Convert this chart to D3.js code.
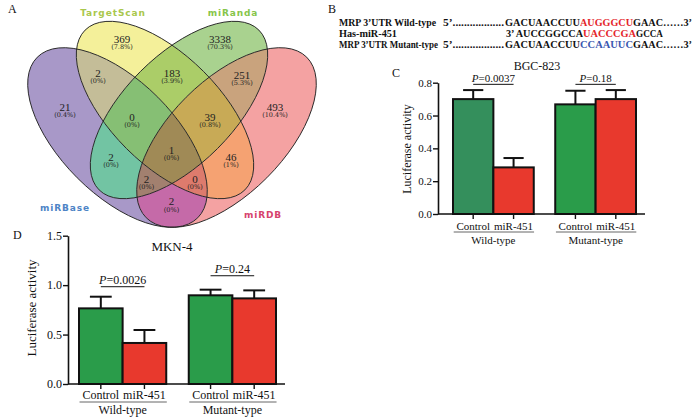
<!DOCTYPE html>
<html><head><meta charset="utf-8">
<script src="https://cdn.jsdelivr.net/npm/d3@7"></script>
<style>body{margin:0;background:#fff}svg{display:block}</style>
</head><body>
<svg id="fig" width="700" height="419"></svg>
<script>
// ---------------- DATA ----------------
const vennSetNames = ["TargetScan", "miRanda", "miRBase", "miRDB"];
const vennRegionSets = [[0],[1],[2],[3],[0,1],[0,2],[1,3],[0,1,2],[0,1,3],[1,2],[0,3],[0,1,2,3],[1,2,3],[0,2,3],[2,3]];
const vennCounts = [369, 3338, 21, 493, 183, 2, 251, 0, 39, 2, 46, 1, 2, 0, 2];
const vennPercents = ["(7.8%)","(70.3%)","(0.4%)","(10.4%)","(3.9%)","(0%)","(5.3%)","(0%)","(0.8%)","(0%)","(1%)","(0%)","(0%)","(0%)","(0%)"];

const groups = ["Wild-type", "Mutant-type"];
const treatments = ["Control", "miR-451"];
const bgcMeans = [0.700, 0.284, 0.668, 0.700];
const bgcErrors = [0.055, 0.057, 0.083, 0.055];
const bgcPValues = ["0.0037", "0.18"];
const bgcPLevels = [0.790, 0.790];
const bgcTicks = [0.0, 0.2, 0.4, 0.6, 0.8];
const mknMeans = [0.765, 0.415, 0.897, 0.866];
const mknErrors = [0.118, 0.131, 0.057, 0.081];
const mknPValues = ["0.0026", "0.24"];
const mknPLevels = [0.984, 1.095];
const mknTicks = [0.0, 0.5, 1.0, 1.5];

const seqRows = [
  {label: "MRP 3’UTR Wild-type", lead: "5’..................", pre: "GACUAACCUU", site: "AUGGGCU", post: "GAAC……3’", kind: "wt"},
  {label: "Has-miR-451", lead: "", pre: "3’ AUCCGGCCA", site: "UACCCGA", post: "GCCA", kind: "mir"},
  {label: "MRP 3’UTR Mutant-type", lead: "5’..................", pre: "GACUAACCUU", site: "CCAAUUC", post: "GAAC……3’", kind: "mut"}
];

// ---------------- LAYOUT / STYLE ----------------
const svg = d3.select("#fig");
const SERIF = "'Liberation Serif','Times New Roman',serif";
const W = 700, H = 419;
const defs = svg.append("defs");

// panel letters
[["A",8,13],["B",328,13],["C",392,77],["D",13,239]].forEach(([t,x,y])=>{
  svg.append("text").attr("x",x).attr("y",y).text(t)
    .attr("font-family",SERIF).attr("font-size",12).attr("fill","#111");
});

// ---------------- VENN ----------------
const ellipses = [
  {cx:165,   cy:110,   rx:113,   ry:54.5, rot:45},   // TargetScan (yellow)
  {cx:179,   cy:110,   rx:113,   ry:54.5, rot:-45},  // miRanda (green)
  {cx:117.5, cy:137.5, rx:113.5, ry:57,   rot:45},   // miRBase (purple)
  {cx:226.5, cy:137.5, rx:113.5, ry:57,   rot:-45}   // miRDB (pink)
];
const regionColors = ["#f4f09a","#a9d28f","#a898c8","#f4a2a2","#abcd68","#c4bd98","#c9a37d",
  "#86bf74","#c8aa56","#72c4a3","#f5a272","#a08a56","#a2806f","#dd7b6d","#c56aa8"];
const regionLabelPos = [[122,39],[220,39],[65,107],[275,107],[172,73],[98,73],[242,75],
  [132,117],[210,117],[111,157],[231,157],[171.5,150],[146.5,179],[195,179],[171.5,201.5]];
const setLabelPos = [[113,16,"#a9c74c"],[233,16,"#86c54a"],[65,211,"#4d84c6"],[263,218,"#d6426d"]];

function addEllipse(sel, e){
  return sel.append("ellipse").attr("cx",e.cx).attr("cy",e.cy).attr("rx",e.rx).attr("ry",e.ry)
    .attr("transform",`rotate(${e.rot} ${e.cx} ${e.cy})`);
}
ellipses.forEach((e,i)=>{
  addEllipse(defs.append("clipPath").attr("id","vclip"+i), e);
});
const venn = svg.append("g");
vennRegionSets.forEach((sets, ri)=>{
  const excl = [0,1,2,3].filter(i=>!sets.includes(i));
  let g = venn.append("g");
  if (excl.length){
    const m = defs.append("mask").attr("id","vmask"+ri).attr("maskUnits","userSpaceOnUse")
      .attr("x",0).attr("y",0).attr("width",W).attr("height",H);
    m.append("rect").attr("width",W).attr("height",H).attr("fill","white");
    excl.forEach(i=> addEllipse(m, ellipses[i]).attr("fill","black"));
    g.attr("mask",`url(#vmask${ri})`);
  }
  sets.forEach(i=>{ g = g.append("g").attr("clip-path",`url(#vclip${i})`); });
  g.append("rect").attr("width",W/2).attr("height",260).attr("fill",regionColors[ri]);
});
ellipses.forEach(e=> addEllipse(venn, e).attr("fill","none").attr("stroke","#222").attr("stroke-width",0.9));

vennRegionSets.forEach((s, ri)=>{
  const [x,y] = regionLabelPos[ri];
  venn.append("text").attr("x",x).attr("y",y+3.5).attr("text-anchor","middle")
    .attr("font-family",SERIF).attr("font-size",11).attr("fill","#222").text(vennCounts[ri]);
  venn.append("text").attr("x",x).attr("y",y+10.3).attr("text-anchor","middle")
    .attr("font-family","'DejaVu Serif',serif").attr("font-size",6.5).attr("fill","#222").text(vennPercents[ri]);
});
vennSetNames.forEach((n,i)=>{
  const [x,y,c] = setLabelPos[i];
  venn.append("text").attr("x",x).attr("y",y).attr("text-anchor","middle")
    .attr("font-family","'DejaVu Sans',sans-serif").attr("font-weight","bold").attr("font-size",9)
    .attr("letter-spacing",0.9).attr("fill",c).text(n);
});

// ---------------- PANEL B: sequences (one text per row) ----------------
const seqColors = {wt:"#e4252b", mir:"#e4252b", mut:"#3a57b0"};
const rowY = [26, 37, 48];
const labelW = [97, 58, 99];
seqRows.forEach((r,i)=>{
  const txt = svg.append("text").attr("y",rowY[i]).attr("font-family",SERIF).attr("font-weight","bold")
    .attr("font-size",10.5).attr("fill","#111");
  const seg = (x, s, w, fill, fs) => {
    if (!s) return;
    const t = txt.append("tspan").attr("x",x).attr("fill",fill||"#111").attr("textLength",w)
      .attr("lengthAdjust","spacingAndGlyphs").text(s);
    if (fs) t.attr("font-size",fs);
  };
  seg(339, r.label, labelW[i], null, 9.3);
  seg(443, r.lead, 61);
  const pw = r.kind==="mir" ? 77 : 75;
  const px = r.kind==="mir" ? 506 : 505;
  seg(px, r.pre, pw);
  seg(px+pw, r.site, 53, seqColors[r.kind]);
  seg(px+pw+53, r.post, r.kind==="mir" ? 27 : 59);
});

// ---------------- BAR CHARTS ----------------
function barChart(cfg){
  const g = svg.append("g");
  const y = d3.scaleLinear().domain(cfg.yDomain).range(cfg.yRange);
  const x0 = d3.scaleBand().domain(groups).range(cfg.xRange).paddingInner(cfg.pad);
  const x1 = d3.scaleBand().domain(treatments).range([0, x0.bandwidth()]);
  const items = [];
  groups.forEach((gr,gi)=>treatments.forEach((tr,ti)=>{
    const k = gi*2+ti;
    items.push({gr, tr, gi, ti, v: cfg.means[k], e: cfg.errors[k], fill: cfg.fills[k],
      x: x0(gr)+x1(tr), w: x1.bandwidth()});
  }));
  // error bars
  items.forEach(d=>{
    const cx = d.x + d.w/2;
    g.append("line").attr("x1",cx).attr("x2",cx).attr("y1",y(d.v)).attr("y2",y(d.v+d.e))
      .attr("stroke","#111").attr("stroke-width",2);
    g.append("line").attr("x1",cx-d.w*0.25).attr("x2",cx+d.w*0.25).attr("y1",y(d.v+d.e)).attr("y2",y(d.v+d.e))
      .attr("stroke","#111").attr("stroke-width",2);
  });
  g.selectAll("rect.bar").data(items).enter().append("rect")
    .attr("x",d=>d.x).attr("width",d=>d.w).attr("y",d=>y(d.v)).attr("height",d=>y(0)-y(d.v))
    .attr("fill",d=>d.fill).attr("stroke","#111").attr("stroke-width",2);
  // y axis
  const ax = g.append("g").attr("transform",`translate(${cfg.axisX},0)`)
    .call(d3.axisLeft(y).tickValues(cfg.ticks).tickFormat(d3.format(".1f")).tickSize(5).tickSizeOuter(0));
  ax.select(".domain").attr("stroke","#111").attr("stroke-width",1.6);
  ax.selectAll(".tick line").attr("stroke","#111").attr("stroke-width",1.4);
  ax.selectAll(".tick text").attr("font-family",SERIF).attr("font-size",cfg.fs).attr("fill","#111").attr("x",-6);
  // x axis line
  g.append("line").attr("x1",cfg.axisX).attr("x2",cfg.axisEnd).attr("y1",y(0)).attr("y2",y(0))
    .attr("stroke","#111").attr("stroke-width",1.6);
  items.forEach(d=>{
    const cx = d.x + d.w/2;
    g.append("line").attr("x1",cx).attr("x2",cx).attr("y1",y(0)).attr("y2",y(0)+5)
      .attr("stroke","#111").attr("stroke-width",1.4);
    g.append("text").attr("x",cx).attr("y",cfg.tickLabelY).attr("text-anchor","middle")
      .attr("font-family",SERIF).attr("font-size",cfg.fs).attr("fill","#111").text(d.tr);
  });
  // group labels with underline
  groups.forEach((gr,gi)=>{
    const its = items.filter(d=>d.gi===gi);
    const l = its[0].x + its[0].w/2 - 19.5*cfg.fs/11;
    const r = its[1].x + its[1].w/2 + 20.5*cfg.fs/11;
    g.append("line").attr("x1",l).attr("x2",r).attr("y1",cfg.underY).attr("y2",cfg.underY)
      .attr("stroke","#666").attr("stroke-width",1);
    g.append("text").attr("x",x0(gr)+x0.bandwidth()/2).attr("y",cfg.groupLabelY).attr("text-anchor","middle")
      .attr("font-family",SERIF).attr("font-size",cfg.fs).attr("fill","#111").text(gr);
    // p-values
    const c1 = its[0].x + its[0].w/2, c2 = its[1].x + its[1].w/2;
    const py = y(cfg.pLevels[gi]);
    g.append("line").attr("x1",c1).attr("x2",c2).attr("y1",py).attr("y2",py).attr("stroke","#111").attr("stroke-width",1);
    const pt = g.append("text").attr("x",(c1+c2)/2).attr("y",py-2.5).attr("text-anchor","middle")
      .attr("font-family",SERIF).attr("font-size",cfg.fs).attr("fill","#111");
    pt.append("tspan").attr("font-style","italic").text("P");
    pt.append("tspan").text("=" + cfg.pValues[gi]);
  });
  // title and y label
  g.append("text").attr("x",cfg.titleX).attr("y",cfg.titleY).attr("text-anchor","middle")
    .attr("font-family",SERIF).attr("font-size",cfg.fs+1).attr("fill","#111").text(cfg.title);
  g.append("text").attr("transform",`translate(${cfg.ylabX},${cfg.ylabY}) rotate(-90)`).attr("text-anchor","middle")
    .attr("font-family",SERIF).attr("font-size",cfg.fs+1).attr("fill","#111").text("Luciferase activity");
}

barChart({
  yDomain:[0,0.8], yRange:[214,82.7], xRange:[453,636], pad:0.21,
  means:bgcMeans, errors:bgcErrors, pValues:bgcPValues, pLevels:bgcPLevels, ticks:bgcTicks,
  fills:["#348f5c","#e8392d","#2a9c4a","#e8392d"],
  axisX:438, axisEnd:645, fs:11, tickLabelY:230, underY:232, groupLabelY:244,
  title:"BGC-823", titleX:537, titleY:70, ylabX:411, ylabY:149
});
barChart({
  yDomain:[0,1.5], yRange:[384,235.7], xRange:[79,276], pad:0.205,
  means:mknMeans, errors:mknErrors, pValues:mknPValues, pLevels:mknPLevels, ticks:mknTicks,
  fills:["#2a9c4a","#e8392d","#2a9c4a","#e8392d"],
  axisX:68, axisEnd:285, fs:12, tickLabelY:399, underY:402, groupLabelY:414,
  title:"MKN-4", titleX:172, titleY:251, ylabX:36, ylabY:308
});
</script>
</body></html>
